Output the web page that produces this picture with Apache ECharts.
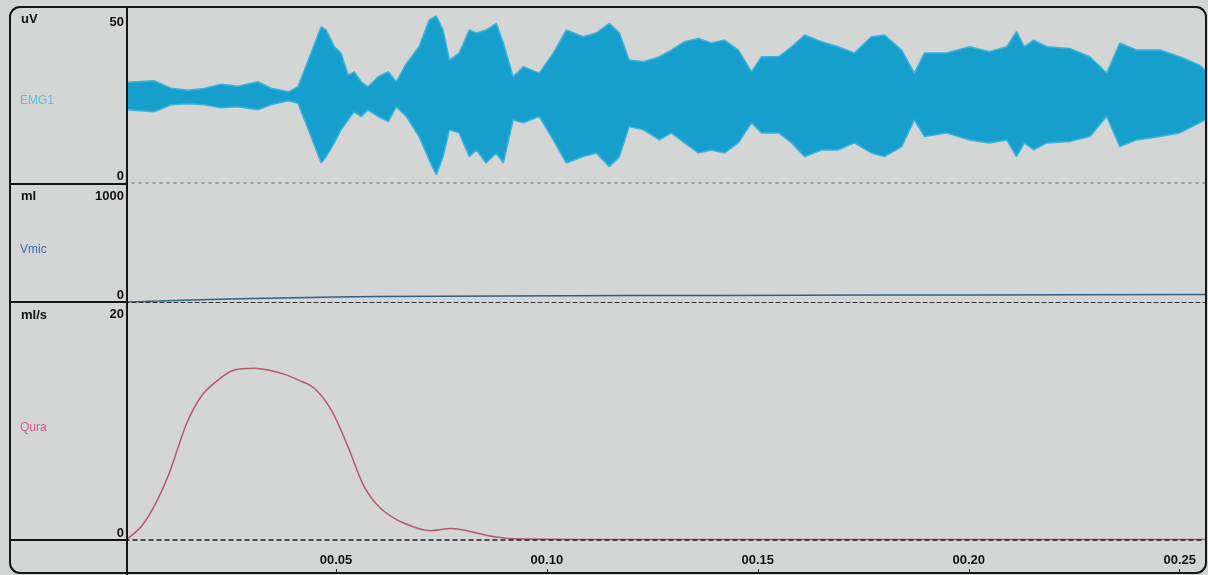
<!DOCTYPE html>
<html><head><meta charset="utf-8">
<script src="https://cdn.jsdelivr.net/npm/echarts@6/dist/echarts.min.js"></script>
<style>html,body{margin:0;padding:0;background:#d4d5d5}#c{width:1208px;height:575px}</style>
</head><body><div id="c"></div>
<script>
// ---- data (time in seconds) ----
const emgTime = [0.0005,0.0069,0.0109,0.0149,0.0187,0.0228,0.0268,0.0315,0.0346,0.0387,0.0410,0.0441,0.0465,0.0477,0.0496,0.0512,0.0529,0.0543,0.0560,0.0576,0.0600,0.0624,0.0643,0.0667,0.0697,0.0721,0.0738,0.0754,0.0769,0.0792,0.0816,0.0833,0.0856,0.0880,0.0897,0.0920,0.0944,0.0982,0.1015,0.1046,0.1086,0.1117,0.1148,0.1172,0.1195,0.1229,0.1267,0.1295,0.1326,0.1359,0.1390,0.1421,0.1454,0.1485,0.1509,0.1549,0.1580,0.1611,0.1651,0.1691,0.1729,0.1769,0.1800,0.1841,0.1871,0.1895,0.1947,0.2002,0.2049,0.2090,0.2113,0.2132,0.2154,0.2185,0.2239,0.2287,0.2327,0.2358,0.2398,0.2453,0.2500,0.2547,0.2560];
const emgUpper = [30.2,30.6,28.4,27.8,28.3,29.6,29.0,30.3,28.4,27.3,28.8,38.9,46.8,45.8,40.8,38.9,32.3,33.3,30.3,28.8,31.8,33.3,30.3,35.8,40.8,48.8,50.0,45.8,36.8,38.9,45.8,44.9,45.8,47.8,41.9,31.8,34.8,32.9,38.9,45.8,43.8,44.9,47.8,44.9,36.8,36.3,37.8,39.8,42.3,43.3,41.9,42.8,39.8,33.3,37.8,37.8,40.8,44.3,42.3,40.8,38.9,43.8,44.3,39.8,32.9,38.9,38.9,40.8,39.3,40.8,45.3,40.8,42.8,40.8,40.3,37.8,32.9,41.9,39.8,39.8,37.8,35.3,33.8];
const emgLower = [21.9,21.3,23.4,23.7,23.4,22.5,22.8,21.9,23.4,24.6,23.9,13.9,6.0,7.9,12.0,15.9,18.9,21.3,19.9,21.9,19.9,18.4,22.8,19.9,13.9,6.9,2.4,7.9,15.9,15.0,7.9,9.9,6.0,9.0,6.0,18.9,18.0,19.9,12.9,6.0,7.9,9.0,4.9,7.9,16.9,15.9,12.9,15.0,12.0,9.0,9.9,9.0,12.0,18.0,15.0,15.0,12.0,7.9,9.9,9.9,12.0,9.0,7.9,10.9,18.9,13.9,15.0,12.9,12.0,12.9,7.9,12.0,9.9,12.0,12.4,13.9,19.9,10.9,12.9,13.9,15.0,18.0,18.9];

const vmicTime   = [0.0005,0.008,0.02,0.04,0.06,0.09,0.12,0.16,0.20,0.256];
const vmicVolume = [0,8,22,38,48,54,57,60,63,68];

const quraTime = [0.0005,0.0038,0.0069,0.0102,0.0126,0.0149,0.0180,0.0211,0.0259,0.0306,0.0339,0.0377,0.0410,0.0448,0.0489,0.0529,0.0567,0.0607,0.0662,0.0726,0.0773,0.0821,0.0875,0.0939,0.1200,0.1600,0.2000,0.2560];
const quraFlow = [0.1,1.15,2.9,5.5,8.0,10.3,12.35,13.5,14.65,14.8,14.65,14.3,13.8,13.1,11.2,8.0,4.6,2.7,1.44,0.8,1.0,0.72,0.28,0.08,0.05,0.05,0.05,0.05];

const xTickValues = [0.05,0.10,0.15,0.20,0.25];
const xTickLabels = ['00.05','00.10','00.15','00.20','00.25'];
const channelNames = ['EMG1','Vmic','Qura'];
const channelUnits = ['uV','ml','ml/s'];
const channelMax = [50,1000,20];

// ---- chart ----
const BG = '#d4d5d5';
const FONT = "'Liberation Sans Narrow','Liberation Sans',Arial,sans-serif";
const pair = (ts, vs) => ts.map((t,i)=>[t,vs[i]]);
const chart = echarts.init(document.getElementById('c'));

const gridDefs = [{top:16,height:167},{top:190,height:112},{top:308,height:232}];
const grids = gridDefs.map(g=>({left:125,right:3,top:g.top,height:g.height}));

const baseX = (gi, lineStyle) => ({
  type:'value', gridIndex:gi, min:0, max:0.256, interval:0.05, z:10,
  axisLine:{show:true,onZero:true,lineStyle}, axisTick:{show:false},
  axisLabel:{show:false}, splitLine:{show:false}
});
const baseY = (gi) => ({
  type:'value', gridIndex:gi, min:0, max:channelMax[gi], interval:channelMax[gi],
  axisLine:{show:false}, axisTick:{show:false}, splitLine:{show:false},
  axisLabel:{show:true, margin:1, color:'#111', fontSize:13, fontWeight:'bold', fontFamily:FONT,
    formatter:v=>String(v), verticalAlignMinLabel:'bottom', verticalAlignMaxLabel:'top'}
});

const labelColors = ['#62bddb','#3570b5','#d0588c'];
const graphic = [
  {type:'rect', z:100, shape:{x:10,y:7,width:1196,height:566,r:10}, style:{fill:null,stroke:'#151515',lineWidth:2}},
  {type:'line', z:100, shape:{x1:127,y1:7,x2:127,y2:575}, style:{stroke:'#151515',lineWidth:2}},
  {type:'line', z:100, shape:{x1:10,y1:184,x2:127,y2:184}, style:{stroke:'#151515',lineWidth:2}},
  {type:'line', z:100, shape:{x1:10,y1:302,x2:127,y2:302}, style:{stroke:'#151515',lineWidth:2}},
  {type:'line', z:100, shape:{x1:10,y1:540,x2:127,y2:540}, style:{stroke:'#151515',lineWidth:2}}
];
const unitY = [19,196,315];
const nameY = [101,250,428];
channelUnits.forEach((u,i)=>{
  graphic.push({type:'text', z:100, x:21, y:unitY[i], style:{text:u, fill:'#111', font:'bold 13px '+FONT, verticalAlign:'middle'}});
  graphic.push({type:'text', z:100, x:20, y:nameY[i], style:{text:channelNames[i], fill:labelColors[i], font:'12px '+FONT, verticalAlign:'middle'}});
});

chart.setOption({
  backgroundColor:BG,
  animation:false,
  grid: grids,
  xAxis: [
    baseX(0,{color:'#8c8c8c',type:[2,5],width:1.5}),
    baseX(1,{color:'#333',type:[4,3],width:1.2}),
    baseX(2,{color:'#222',type:[4,4],width:1.5}),
    {type:'value', gridIndex:2, min:0, max:0.256, interval:0.05, position:'bottom', offset:33,
     axisLine:{show:false}, splitLine:{show:false},
     axisTick:{show:true, inside:true, length:4, lineStyle:{color:'#222'}},
     axisLabel:{show:true, inside:true, margin:6, showMinLabel:false, showMaxLabel:false,
       color:'#111', fontSize:13, fontWeight:'bold', fontFamily:FONT,
       formatter:v=>{const i=xTickValues.findIndex(x=>Math.abs(x-v)<1e-6); return i>=0?xTickLabels[i]:'';}}}
  ],
  yAxis: [baseY(0), baseY(1), baseY(2)],
  graphic,
  series: [
    {name:channelNames[0], type:'line', xAxisIndex:0, yAxisIndex:0, symbol:'none', z:2,
     data:pair(emgTime, emgUpper),
     lineStyle:{width:1.5,color:'#3db3da'}, areaStyle:{color:'#169fcd',opacity:1,origin:'start'}},
    {name:'emgLowerEdge', type:'line', xAxisIndex:0, yAxisIndex:0, symbol:'none', silent:true, z:3,
     data:pair(emgTime, emgLower), lineStyle:{width:1.5,color:'#3db3da'},
     areaStyle:{color:BG,opacity:1,origin:'start'}},
    {name:channelNames[1], type:'line', xAxisIndex:1, yAxisIndex:1, symbol:'none', smooth:0.3,
     data:pair(vmicTime, vmicVolume), lineStyle:{width:1.5,color:'#2e5f86'}},
    {name:channelNames[2], type:'line', xAxisIndex:2, yAxisIndex:2, symbol:'none', smooth:0.35,
     data:pair(quraTime, quraFlow), lineStyle:{width:1.5,color:'#b35a6c'}}
  ]
});
</script></body></html>
